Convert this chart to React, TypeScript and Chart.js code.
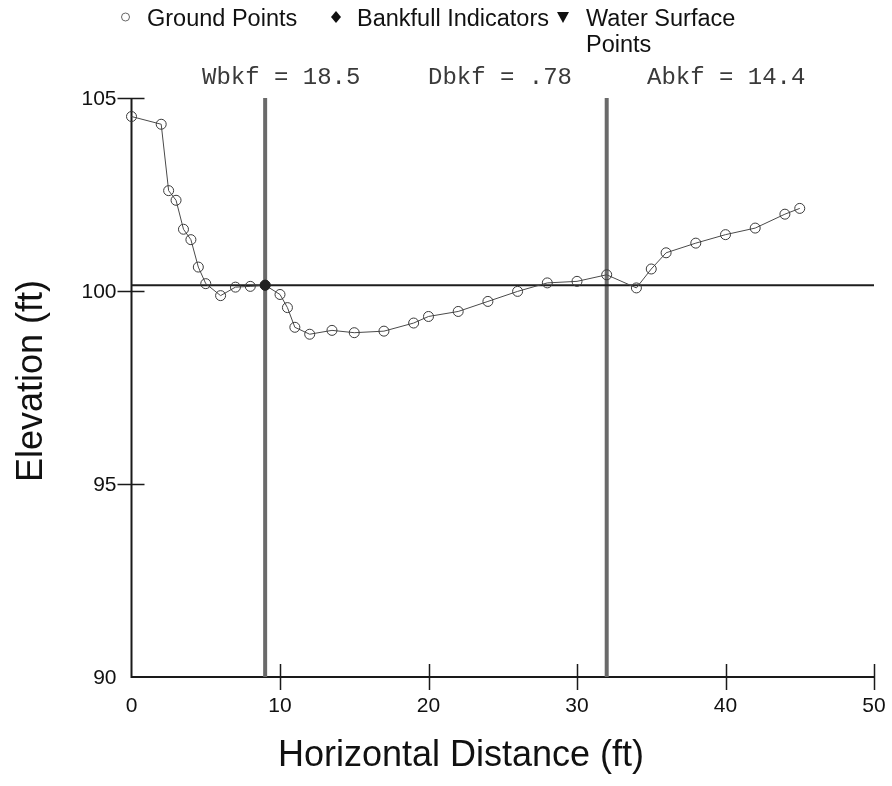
import { useEffect, useRef } from "react";
import { Chart, registerables } from "chart.js";

Chart.register(...registerables);

// Surveyed cross-section: station (ft) and ground elevation (ft)
const stationFt = [0, 2, 2.5, 3, 3.5, 4, 4.5, 5, 6, 7, 8, 9, 10, 10.5, 11, 12, 13.5, 15, 17, 19, 20, 22, 24, 26, 28, 30, 32, 34, 35, 36, 38, 40, 42, 44, 45];
const elevationFt = [104.52, 104.32, 102.6, 102.35, 101.6, 101.33, 100.62, 100.19, 99.88, 100.1, 100.12, 100.15, 99.91, 99.57, 99.06, 98.88, 98.98, 98.92, 98.96, 99.17, 99.34, 99.47, 99.73, 99.99, 100.21, 100.25, 100.42, 100.08, 100.57, 100.99, 101.24, 101.46, 101.63, 101.99, 102.14];

// Bankfull indicator and stage
const bankfullStation = [9];
const bankfullElevation = [100.15];
const bankfullStage = 100.15;
const bankfullEdges = [9, 32];

// Water surface shots (none recorded)
const waterStation: number[] = [];
const waterElevation: number[] = [];

const xTicks = [0, 10, 20, 30, 40, 50];
const yTicks = [90, 95, 100, 105];
const legendLabels = ["Ground Points", "Bankfull Indicators", "Water Surface", "Points"];
const summaryLabels = ["Wbkf = 18.5", "Dbkf = .78", "Abkf = 14.4"];
const xTitle = "Horizontal Distance (ft)";
const yTitle = "Elevation (ft)";

const SANS = '"Liberation Sans", Arial, sans-serif';
const MONO = '"Liberation Mono", "Courier New", monospace';

const framePlugin = {
  id: "sectionFrame",
  beforeDatasetsDraw(chart: any) {
    const { ctx, chartArea } = chart;
    const xs = chart.scales.x;
    const ys = chart.scales.y;
    ctx.save();
    ctx.strokeStyle = "#1a1a1a";
    ctx.lineWidth = 2;
    ctx.beginPath();
    ctx.moveTo(chartArea.left, ys.getPixelForValue(yTicks[yTicks.length - 1]));
    ctx.lineTo(chartArea.left, chartArea.bottom);
    ctx.lineTo(chartArea.right, chartArea.bottom);
    ctx.stroke();
    ctx.lineWidth = 1.5;
    ctx.beginPath();
    for (const v of yTicks) {
      if (v === yTicks[0]) continue;
      const py = Math.round(ys.getPixelForValue(v)) + 0.5;
      ctx.moveTo(chartArea.left - 14, py);
      ctx.lineTo(chartArea.left + 13, py);
    }
    for (const v of xTicks) {
      if (v === xTicks[0]) continue;
      const px = Math.round(xs.getPixelForValue(v)) + 0.5;
      ctx.moveTo(px, chartArea.bottom + 13);
      ctx.lineTo(px, chartArea.bottom - 13);
    }
    ctx.stroke();
    ctx.restore();
  },
  afterDraw(chart: any) {
    const { ctx, chartArea } = chart;
    const xs = chart.scales.x;
    const ys = chart.scales.y;
    ctx.save();
    ctx.fillStyle = "#111";

    // tick labels
    ctx.font = `21px ${SANS}`;
    ctx.textAlign = "right";
    ctx.textBaseline = "middle";
    for (const v of yTicks) ctx.fillText(String(v), chartArea.left - 15, ys.getPixelForValue(v) + 1);
    ctx.textAlign = "center";
    ctx.textBaseline = "alphabetic";
    for (const v of xTicks) ctx.fillText(String(v), xs.getPixelForValue(v), chartArea.bottom + 35);

    // axis titles
    ctx.font = `36px ${SANS}`;
    ctx.textAlign = "center";
    ctx.textBaseline = "middle";
    ctx.fillText(xTitle, 461, 756);
    ctx.save();
    ctx.translate(32, 381);
    ctx.rotate(-Math.PI / 2);
    ctx.fillText(yTitle, 0, 0);
    ctx.restore();

    // legend
    ctx.font = `23.5px ${SANS}`;
    ctx.textAlign = "left";
    ctx.textBaseline = "alphabetic";
    const base = 26;
    const ly = 17;
    ctx.strokeStyle = "#666";
    ctx.lineWidth = 1;
    ctx.beginPath();
    ctx.arc(125.5, ly, 4, 0, Math.PI * 2);
    ctx.stroke();
    ctx.fillText(legendLabels[0], 147, base);
    ctx.fillStyle = "#111";
    ctx.beginPath();
    ctx.moveTo(336, ly - 6);
    ctx.lineTo(341, ly);
    ctx.lineTo(336, ly + 6);
    ctx.lineTo(331, ly);
    ctx.closePath();
    ctx.fill();
    ctx.fillText(legendLabels[1], 357, base);
    ctx.beginPath();
    ctx.moveTo(557, ly - 5);
    ctx.lineTo(569, ly - 5);
    ctx.lineTo(563, ly + 6);
    ctx.closePath();
    ctx.fill();
    ctx.fillText(legendLabels[2], 586, base);
    ctx.fillText(legendLabels[3], 586, base + 26);

    // bankfull summary
    ctx.font = `24px ${MONO}`;
    ctx.fillStyle = "#3a3a3a";
    ctx.fillText(summaryLabels[0], 202, 84);
    ctx.fillText(summaryLabels[1], 428, 84);
    ctx.fillText(summaryLabels[2], 647, 84);
    ctx.restore();
  },
};

export default function App() {
  const canvasRef = useRef<HTMLCanvasElement | null>(null);

  useEffect(() => {
    const canvas = canvasRef.current;
    if (!canvas) return;
    const ground = stationFt.map((x, i) => ({ x, y: elevationFt[i] }));
    const bankfull = bankfullStation.map((x, i) => ({ x, y: bankfullElevation[i] }));
    const water = waterStation.map((x, i) => ({ x, y: waterElevation[i] }));
    const yMin = yTicks[0];
    const yMax = yTicks[yTicks.length - 1];
    const xMin = xTicks[0];
    const xMax = xTicks[xTicks.length - 1];

    const chart = new Chart(canvas, {
      type: "scatter",
      data: {
        datasets: [
          {
            label: "Bankfull Indicators",
            data: bankfull,
            pointStyle: "circle",
            pointRadius: 5,
            backgroundColor: "#222",
            borderColor: "#222",
            borderWidth: 1,
            order: 0,
          },
          {
            label: "Ground Points",
            data: ground,
            showLine: true,
            borderColor: "#4a4a4a",
            borderWidth: 1,
            pointRadius: 5,
            pointBorderWidth: 1,
            pointBorderColor: "#3a3a3a",
            pointBackgroundColor: "rgba(0,0,0,0)",
            order: 1,
          },
          {
            label: "Water Surface Points",
            data: water,
            pointStyle: "triangle",
            rotation: 180,
            backgroundColor: "#111",
            order: 2,
          },
          {
            label: "Bankfull Stage",
            data: [
              { x: xMin, y: bankfullStage },
              { x: xMax, y: bankfullStage },
            ],
            showLine: true,
            borderColor: "#1e1e1e",
            borderWidth: 2,
            pointRadius: 0,
            order: 3,
          },
          ...bankfullEdges.map((edge) => ({
            label: "Bankfull Edge",
            data: [
              { x: edge, y: yMin },
              { x: edge, y: yMax },
            ],
            showLine: true,
            borderColor: "#6a6a6a",
            borderWidth: 4,
            pointRadius: 0,
            order: 4,
          })),
        ],
      },
      options: {
        animation: false,
        responsive: false,
        maintainAspectRatio: false,
        layout: { padding: { left: 131.5, right: 18, top: 98, bottom: 109 } },
        clip: false as any,
        scales: {
          x: { type: "linear", min: xMin, max: xMax, display: false },
          y: { type: "linear", min: yMin, max: yMax, display: false },
        },
        plugins: {
          legend: { display: false },
          tooltip: { enabled: false },
        },
      },
      plugins: [framePlugin],
    });
    return () => chart.destroy();
  }, []);

  return (
    <div style={{ position: "absolute", left: 0, top: 0, width: 892, height: 786, background: "#fff" }}>
      <canvas ref={canvasRef} width={892} height={786} style={{ width: 892, height: 786, display: "block" }} />
    </div>
  );
}
